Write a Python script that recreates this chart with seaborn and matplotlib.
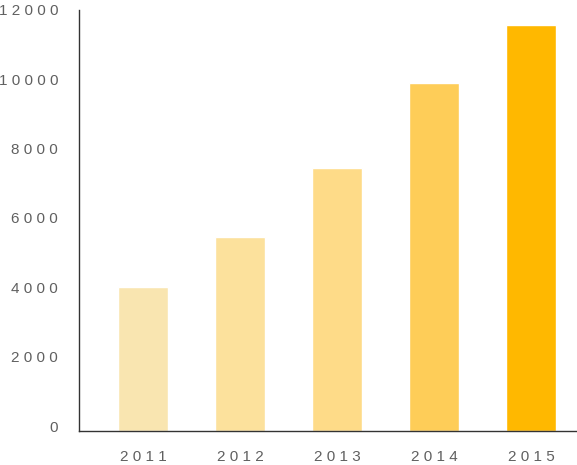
import pandas as pd
import matplotlib.pyplot as plt
import matplotlib.transforms as mtransforms
import seaborn as sns

# Data
years = ["2011", "2012", "2013", "2014", "2015"]
values = [4150, 5600, 7600, 10050, 11700]
bar_colors = ["#F9E5B0", "#FCE19C", "#FEDB88", "#FECD58", "#FFB800"]
y_ticks = [0, 2000, 4000, 6000, 8000, 10000, 12000]

df = pd.DataFrame({"year": years, "value": values})

sns.set_style("white")
plt.rcParams["font.family"] = ["Liberation Sans", "DejaVu Sans"]

fig = plt.figure(figsize=(5.77, 4.65), dpi=100)
ax = fig.add_axes([79 / 577, 34 / 465, 498 / 577, 421 / 465])

sns.barplot(data=df, x="year", y="value", hue="year", palette=bar_colors,
            width=0.515, legend=False, saturation=1, ax=ax)

ax.set_xlim(-0.66, 4.47)
ax.set_ylim(0, 12144)

# spaced-out tick labels
def spaced(s):
    return "\u2009\u200a".join(s)

ax.set_yticks(y_ticks)
ax.set_yticklabels([spaced(str(t)) for t in y_ticks])
ax.set_xticks(range(len(years)))
ax.set_xticklabels([spaced(y) for y in years])
ax.tick_params(axis="both", length=0, labelsize=11, labelcolor="#606060")
ax.tick_params(axis="y", pad=15)
ax.tick_params(axis="x", pad=14)

# nudge the y labels up a little, as in the reference
offset = mtransforms.ScaledTranslation(0, 5 / 100, fig.dpi_scale_trans)
for lab in ax.get_yticklabels():
    lab.set_transform(lab.get_transform() + offset)

ax.set_xlabel("")
ax.set_ylabel("")
sns.despine(ax=ax, top=True, right=True)
for side in ["left", "bottom"]:
    ax.spines[side].set_color("#333333")
    ax.spines[side].set_linewidth(1)

fig.savefig("out.png", dpi=100)
